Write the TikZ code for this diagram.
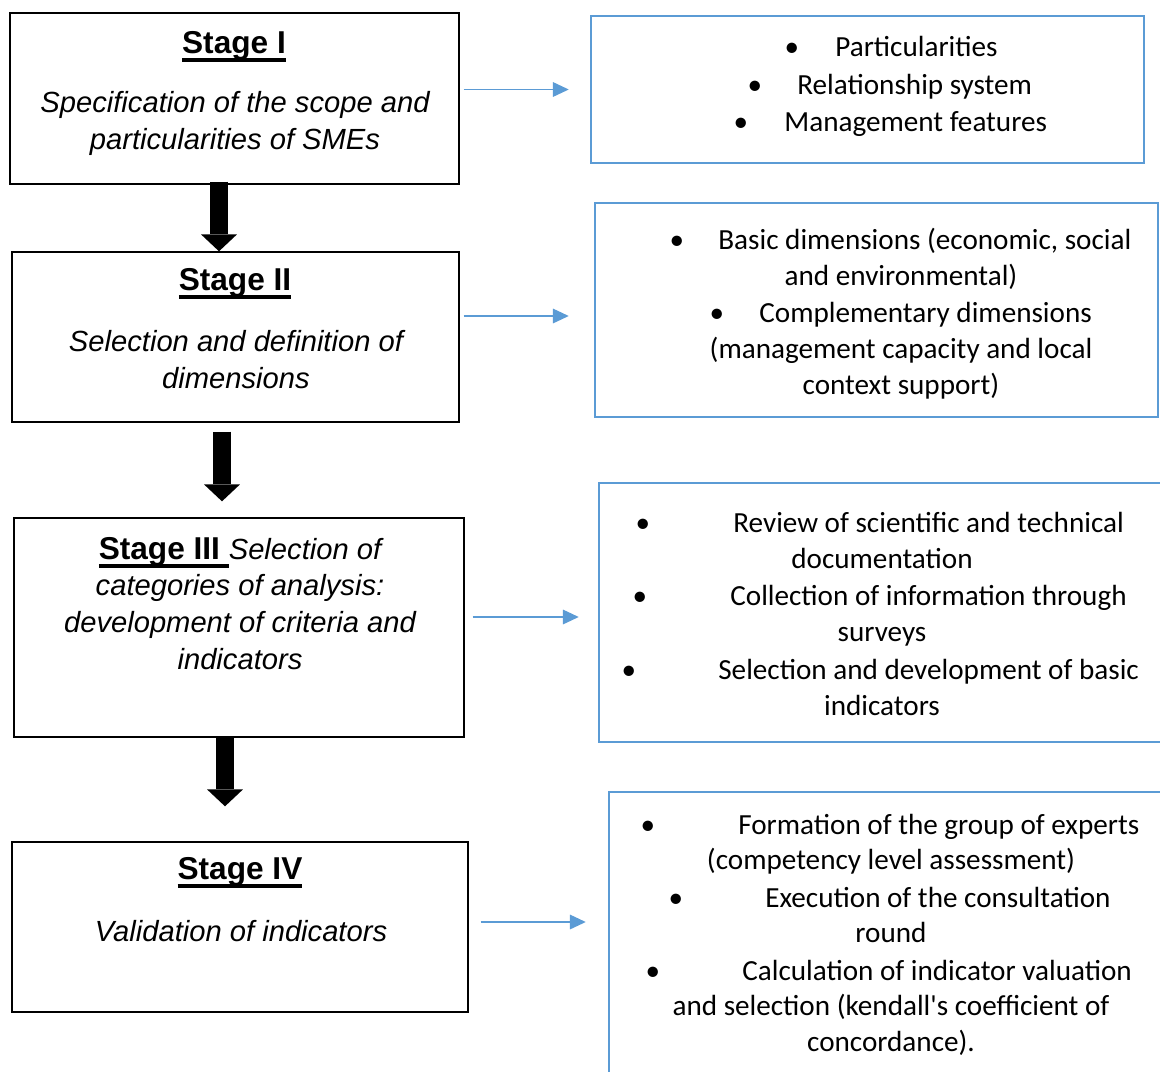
\documentclass[tikz,border=0pt]{standalone}
\usepackage{fontspec}
\setmainfont{Carlito}
\newfontfamily\arialfont{Liberation Sans}
\usetikzlibrary{arrows.meta,calc}
\definecolor{boxblue}{HTML}{5B9BD5}
\newcommand{\stageul}[1]{\setbox0\hbox{#1}\leavevmode\rlap{\rule[-5pt]{\wd0}{2pt}}\box0}

\begin{document}
\begin{tikzpicture}[x=0.02cm, y=-0.02cm]
  \tikzset{
    stagebox/.style={draw=black, line width=0.8pt, inner sep=0pt},
    infobox/.style={draw=boxblue, line width=1.5pt, inner sep=0pt},
    head/.style={font=\arialfont\fontsize{18}{21}\selectfont\bfseries, inner sep=0pt, anchor=base},
    desc/.style={font=\arialfont\fontsize{16.6}{21}\selectfont\itshape, align=center, inner sep=0pt},
    item/.style={font=\fontsize{16.6}{20}\selectfont, anchor=west, inner sep=0pt, text height=12.5pt, text depth=2pt},
    cont/.style={font=\fontsize{16.6}{20}\selectfont, inner sep=0pt, text height=12.5pt, text depth=2pt},
    dot/.style={font=\fontsize{16.6}{20}\selectfont, inner sep=0pt, text height=12.5pt, text depth=2pt},
    blk/.style={line width=9.8pt, -{Triangle[length=9.6pt, width=20.4pt, line width=0pt]}},
    lnk/.style={draw=boxblue, line width=0.7pt, -{Triangle[length=9pt, width=8.5pt, line width=0pt]}}
  }
  \useasboundingbox (0,0) rectangle (1160,1072);
  \clip (0,0) rectangle (1160,1072);

  % stages
  \node[stagebox, minimum width=8.98cm, minimum height=3.42cm] (s1) at (234.5,98.5) {};
  \node[stagebox, minimum width=8.94cm, minimum height=3.40cm] (s2) at (235.5,337) {};
  \node[stagebox, minimum width=9.00cm, minimum height=4.38cm] (s3) at (239,627.5) {};
  \node[stagebox, minimum width=9.12cm, minimum height=3.40cm] (s4) at (240,927) {};

  \node[head] (h1) at (234,53) {\stageul{Stage I}};
  \node[desc] (d1) at (235,123.5) {Specification of the scope and\\particularities of SMEs};
  \node[head] (h2) at (235,290) {\stageul{Stage II}};
  \node[desc] (d2) at (236,359.5) {Selection and definition of\\dimensions};
  \node[desc] (d3) at (240,603.5) {\stageul{\upshape\bfseries\fontsize{18}{21}\selectfont Stage III\ }Selection of\\categories of analysis:\\development of criteria and\\indicators};
  \node[head] (h4) at (240,879) {\stageul{Stage IV}};
  \node[desc] (d4) at (241,931) {Validation of indicators};

  % detail boxes
  \node[infobox, minimum width=11.06cm, minimum height=2.94cm] (r1) at (867.5,89.5) {};
  \node[infobox, minimum width=11.26cm, minimum height=4.28cm] (r2) at (876.5,310) {};
  \node[infobox, minimum width=11.42cm, minimum height=5.18cm] (r3) at (884.5,612.5) {};
  \node[infobox, minimum width=11.22cm, minimum height=6.16cm] (r4) at (889.5,946) {};

  \node[dot] (b11) at (792,47) {\textbullet};
  \node[item] (r1a) at (835,47) {Particularities};
  \node[dot] (b12) at (755,85) {\textbullet};
  \node[item] (r1b) at (797,85) {Relationship system};
  \node[dot] (b13) at (741,122) {\textbullet};
  \node[item] (r1c) at (784,122) {Management features};

  \node[dot] (b21) at (677,240) {\textbullet};
  \node[item] (r2a) at (718,240) {Basic dimensions (economic, social};
  \node[cont] (r2b) at (901,276) {and environmental)};
  \node[dot] (b22) at (717,313) {\textbullet};
  \node[item] (r2c) at (759,313) {Complementary dimensions};
  \node[cont] (r2d) at (901,349) {(management capacity and local};
  \node[cont] (r2e) at (901,385) {context support)};

  \node[dot] (b31) at (643,523) {\textbullet};
  \node[item] (r3a) at (733,523) {Review of scientific and technical};
  \node[cont] (r3b) at (882,559) {documentation};
  \node[dot] (b32) at (640,596) {\textbullet};
  \node[item] (r3c) at (730,596) {Collection of information through};
  \node[cont] (r3d) at (882,632) {surveys};
  \node[dot] (b33) at (629,670) {\textbullet};
  \node[item] (r3e) at (718,670) {Selection and development of basic};
  \node[cont] (r3f) at (882,706) {indicators};

  \node[dot] (b41) at (648,825) {\textbullet};
  \node[item] (r4a) at (738,825) {Formation of the group of experts};
  \node[cont] (r4b) at (891,860) {(competency level assessment)};
  \node[dot] (b42) at (676,898) {\textbullet};
  \node[item] (r4c) at (765,898) {Execution of the consultation};
  \node[cont] (r4d) at (891,933) {round};
  \node[dot] (b43) at (653,971) {\textbullet};
  \node[item] (r4e) at (742,971) {Calculation of indicator valuation};
  \node[cont] (r4f) at (891,1006) {and selection (kendall\textquotesingle s coefficient of};
  \node[cont] (r4g) at (891,1042) {concordance).};

  % flow arrows
  \draw[blk] ($(s1.south)+(-15.5,-3)$) -- ($(s2.north)+(-16.5,0)$);
  \draw[blk] ($(s2.south)+(-13.5,9)$) -- ($(s3.north)+(-17,-16)$);
  \draw[blk] ($(s3.south)+(-14,0)$) -- ($(s4.north)+(-15,-35)$);

  \draw[lnk] ($(s1.east |- r1.west)+(4,0)$) -- ($(r1.west)+(-21,0)$);
  \draw[lnk] ($(s2.east |- r2.west)+(4,6)$) -- ($(r2.west)+(-25,6)$);
  \draw[lnk] ($(s3.east |- r3.west)+(8,4.5)$) -- ($(r3.west)+(-19,4.5)$);
  \draw[lnk] ($(s4.east)+(12,-5)$) -- ($(s4.east -| r4.west)+(-22,-5)$);
\end{tikzpicture}
\end{document}
